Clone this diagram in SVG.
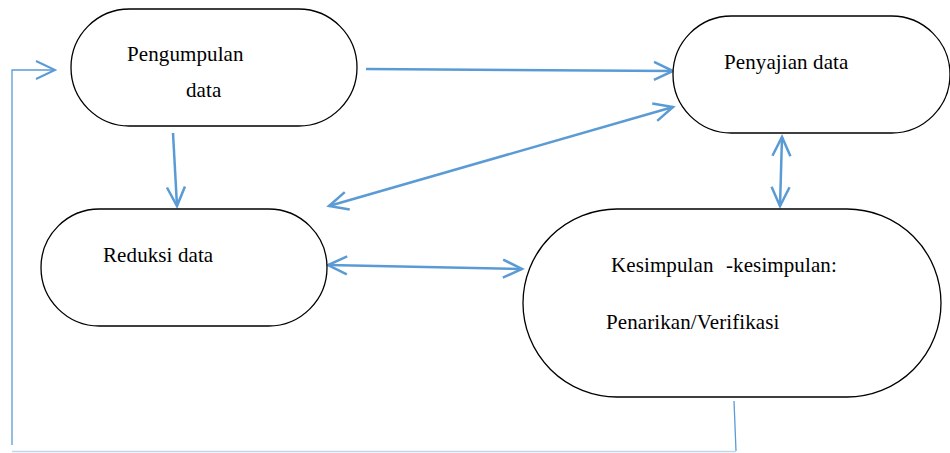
<svg xmlns="http://www.w3.org/2000/svg" width="950" height="453" viewBox="0 0 950 453">
<style>
.node{fill:#fff;stroke:#000;stroke-width:1.3}
.lbl{font-family:'Liberation Serif',serif;font-size:21px;letter-spacing:0.1px;fill:#000}
.conn{stroke:#5B9BD5;stroke-width:2.5;fill:none}
.thin{stroke:#5B9BD5;stroke-width:1.3;fill:none}
</style>
<defs>
<marker id="ah" markerUnits="userSpaceOnUse" markerWidth="24" markerHeight="22" refX="19" refY="9" orient="auto-start-reverse" viewBox="-2 -2 24 22">
<path d="M0,0 L19,9 L0,18" fill="none" stroke="#5B9BD5" stroke-width="2.5"/>
</marker>
</defs>
<g id="connectors">
<line class="conn" x1="366" y1="69" x2="673" y2="71" marker-end="url(#ah)"/>
<line class="conn" x1="329" y1="206" x2="673" y2="107" marker-start="url(#ah)" marker-end="url(#ah)"/>
<line class="conn" x1="328" y1="265" x2="522" y2="269" marker-start="url(#ah)" marker-end="url(#ah)"/>
<line class="conn" x1="173" y1="133" x2="177" y2="206" marker-end="url(#ah)"/>
<line class="conn" x1="782" y1="137" x2="780" y2="206" marker-start="url(#ah)" marker-end="url(#ah)"/>
<line class="thin" x1="734" y1="401" x2="736" y2="451"/>
<line x1="12" y1="451.5" x2="736" y2="451.5" stroke="#BDD7EE" stroke-width="1.5"/>
<polyline class="thin" points="12,445 12,70 55,70"/>
<path d="M36,61 L55,70 L36,79" fill="none" stroke="#5B9BD5" stroke-width="2"/>
</g>
<g id="pengumpulan">
<rect class="node" x="71" y="9" width="286" height="117" rx="58.5" ry="58.5"/>
<text class="lbl" x="127" y="61">Pengumpulan</text>
<text class="lbl" x="186" y="97">data</text>
</g>
<g id="penyajian">
<rect class="node" x="673" y="16" width="277" height="117" rx="58.5" ry="58.5"/>
<text class="lbl" x="724" y="69">Penyajian data</text>
</g>
<g id="reduksi">
<rect class="node" x="41" y="209" width="286" height="117" rx="58.5" ry="58.5"/>
<text class="lbl" x="103" y="262">Reduksi data</text>
</g>
<g id="kesimpulan">
<rect class="node" x="523" y="209" width="418" height="188" rx="94" ry="94"/>
<text class="lbl" y="272"><tspan x="611">Kesimpulan</tspan><tspan x="726">-kesimpulan:</tspan></text>
<text class="lbl" x="606" y="329">Penarikan/Verifikasi</text>
</g>
</svg>
